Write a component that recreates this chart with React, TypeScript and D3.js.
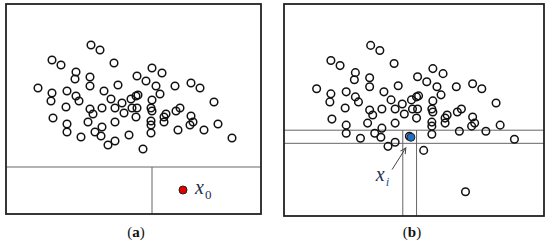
import React, { useEffect, useRef } from "react";
import * as d3 from "d3";

// scatter cloud, coordinates in the (a) frame's units (x: 0..255, y: 0..210, y down)
const cloudX = [85, 94, 46, 55, 108, 146, 156, 70, 69, 84, 131, 140, 84, 112, 150, 169, 185, 194,
  32, 46, 61, 98, 154, 132, 70, 45, 73, 105, 116, 125, 130, 146, 208, 60, 84, 96, 109, 126, 131,
  145, 146, 170, 174, 87, 118, 130, 160, 158, 185, 47, 82, 109, 145, 145, 158, 187, 184, 61, 96,
  212, 61, 89, 95, 75, 123, 145, 172, 198, 226, 109, 102, 137];
const cloudY = [41, 46, 56, 61, 59, 64, 69, 68, 75, 73, 72, 77, 82, 81, 82, 82, 79, 84,
  84, 89, 87, 87, 90, 91, 92, 97, 97, 95, 99, 95, 92, 96, 98, 103, 105, 104, 104, 104, 104,
  104, 107, 107, 104, 110, 109, 113, 110, 113, 112, 114, 118, 118, 117, 121, 118, 118, 121, 120, 123,
  120, 128, 128, 132, 133, 131, 129, 126, 126, 134, 137, 141, 145];

// (a): query point x0 and its cell split
const pointA = { x: 177, y: 186 };
const splitA = { y: 163, x: 146 };

// (b): point xi with its strip, and the isolated point
const pointB = { x: 124.5, y: 132 };
const stripB = { y0: 125, y1: 138, x0: 116.5, x1: 130 };
const outlierB = { x: 178, y: 186 };
const arrowB = { from: [106, 164], to: [119.5, 142.5] };
const labelB = { x: 90, y: 175 };

const W = 550;
const H = 243;
const SERIF = "'Liberation Serif', 'Times New Roman', serif";

const App = () => {
  const ref = useRef<SVGSVGElement>(null);

  useEffect(() => {
    const svg = d3.select(ref.current);
    svg.selectAll("*").remove();

    svg.append("defs").append("marker")
      .attr("id", "arr")
      .attr("viewBox", "0 0 10 10")
      .attr("refX", 9).attr("refY", 5)
      .attr("markerWidth", 7).attr("markerHeight", 7)
      .attr("orient", "auto")
      .append("path")
      .attr("d", "M1,1 L9,5 L1,9")
      .attr("fill", "none")
      .attr("stroke", "#444")
      .attr("stroke-width", 1.4);

    const panel = (x0: number, x1: number, y0: number, y1: number) => {
      const x = d3.scaleLinear().domain([0, 255]).range([x0, x1]);
      const y = d3.scaleLinear().domain([0, 210]).range([y0, y1]);
      return { x, y };
    };

    const drawCloud = (g: any, x: any, y: any) => {
      g.selectAll("circle.c")
        .data(cloudX.map((v, i) => [v, cloudY[i]]))
        .enter()
        .append("circle")
        .attr("class", "c")
        .attr("cx", (d: number[]) => x(d[0]))
        .attr("cy", (d: number[]) => y(d[1]))
        .attr("r", 3.8)
        .attr("fill", "none")
        .attr("stroke", "#111")
        .attr("stroke-width", 1.5);
    };

    const frame = (g: any, x: any, y: any) => {
      g.append("rect")
        .attr("x", x(0)).attr("y", y(0))
        .attr("width", x(255) - x(0)).attr("height", y(210) - y(0))
        .attr("fill", "none")
        .attr("stroke", "#222")
        .attr("stroke-width", 1.8);
    };

    const caption = (g: any, cx: number, letter: string) => {
      const t = g.append("text")
        .attr("x", cx).attr("y", 237)
        .attr("text-anchor", "middle")
        .attr("font-family", SERIF)
        .attr("font-size", 15)
        .attr("fill", "#111");
      t.append("tspan").text("(");
      t.append("tspan").attr("font-weight", "bold").text(letter);
      t.append("tspan").text(")");
    };

    // ---- panel (a)
    const a = panel(6, 261, 4, 214);
    const ga = svg.append("g");
    ga.append("line")
      .attr("x1", a.x(0)).attr("x2", a.x(255))
      .attr("y1", a.y(splitA.y)).attr("y2", a.y(splitA.y))
      .attr("stroke", "#666").attr("stroke-width", 1);
    ga.append("line")
      .attr("x1", a.x(splitA.x)).attr("x2", a.x(splitA.x))
      .attr("y1", a.y(splitA.y)).attr("y2", a.y(210))
      .attr("stroke", "#666").attr("stroke-width", 1);
    drawCloud(ga, a.x, a.y);
    ga.append("circle")
      .attr("cx", a.x(pointA.x)).attr("cy", a.y(pointA.y))
      .attr("r", 4)
      .attr("fill", "#e50000")
      .attr("stroke", "#222").attr("stroke-width", 1);
    const ta = ga.append("text")
      .attr("x", a.x(pointA.x) + 12).attr("y", a.y(pointA.y) + 4)
      .attr("font-family", SERIF)
      .attr("fill", "#1f3050");
    ta.append("tspan").attr("font-size", 20).attr("font-style", "italic").text("x");
    ta.append("tspan").attr("font-size", 13).attr("dy", 5).attr("dx", 1).text("0");
    frame(ga, a.x, a.y);
    caption(ga, 136, "a");

    // ---- panel (b)
    const b = panel(284, 544, 4, 216);
    const gb = svg.append("g");
    [stripB.y0, stripB.y1].forEach((v) => {
      gb.append("line")
        .attr("x1", b.x(0)).attr("x2", b.x(255))
        .attr("y1", b.y(v)).attr("y2", b.y(v))
        .attr("stroke", "#666").attr("stroke-width", 1);
    });
    [stripB.x0, stripB.x1].forEach((v) => {
      gb.append("line")
        .attr("x1", b.x(v)).attr("x2", b.x(v))
        .attr("y1", b.y(stripB.y0)).attr("y2", b.y(210))
        .attr("stroke", "#666").attr("stroke-width", 1);
    });
    drawCloud(gb, b.x, b.y);
    gb.append("circle")
      .attr("cx", b.x(outlierB.x)).attr("cy", b.y(outlierB.y))
      .attr("r", 3.8)
      .attr("fill", "none")
      .attr("stroke", "#111").attr("stroke-width", 1.5);
    gb.append("circle")
      .attr("cx", b.x(pointB.x)).attr("cy", b.y(pointB.y))
      .attr("r", 4)
      .attr("fill", "#1f6fc8")
      .attr("stroke", "#222").attr("stroke-width", 1);
    gb.append("line")
      .attr("x1", b.x(arrowB.from[0])).attr("y1", b.y(arrowB.from[1]))
      .attr("x2", b.x(arrowB.to[0])).attr("y2", b.y(arrowB.to[1]))
      .attr("stroke", "#444").attr("stroke-width", 1)
      .attr("marker-end", "url(#arr)");
    const tb = gb.append("text")
      .attr("x", b.x(labelB.x)).attr("y", b.y(labelB.y))
      .attr("font-family", SERIF)
      .attr("fill", "#1f3050");
    tb.append("tspan").attr("font-size", 20).attr("font-style", "italic").text("x");
    tb.append("tspan").attr("font-size", 13).attr("font-style", "italic")
      .attr("dy", 5).attr("dx", 1).attr("fill", "#2a5aa0").text("i");
    frame(gb, b.x, b.y);
    caption(gb, 412, "b");
  }, []);

  return (
    <svg
      ref={ref}
      width={W}
      height={H}
      style={{ position: "absolute", left: 0, top: 0, background: "#fff" }}
    />
  );
};

export default App;
